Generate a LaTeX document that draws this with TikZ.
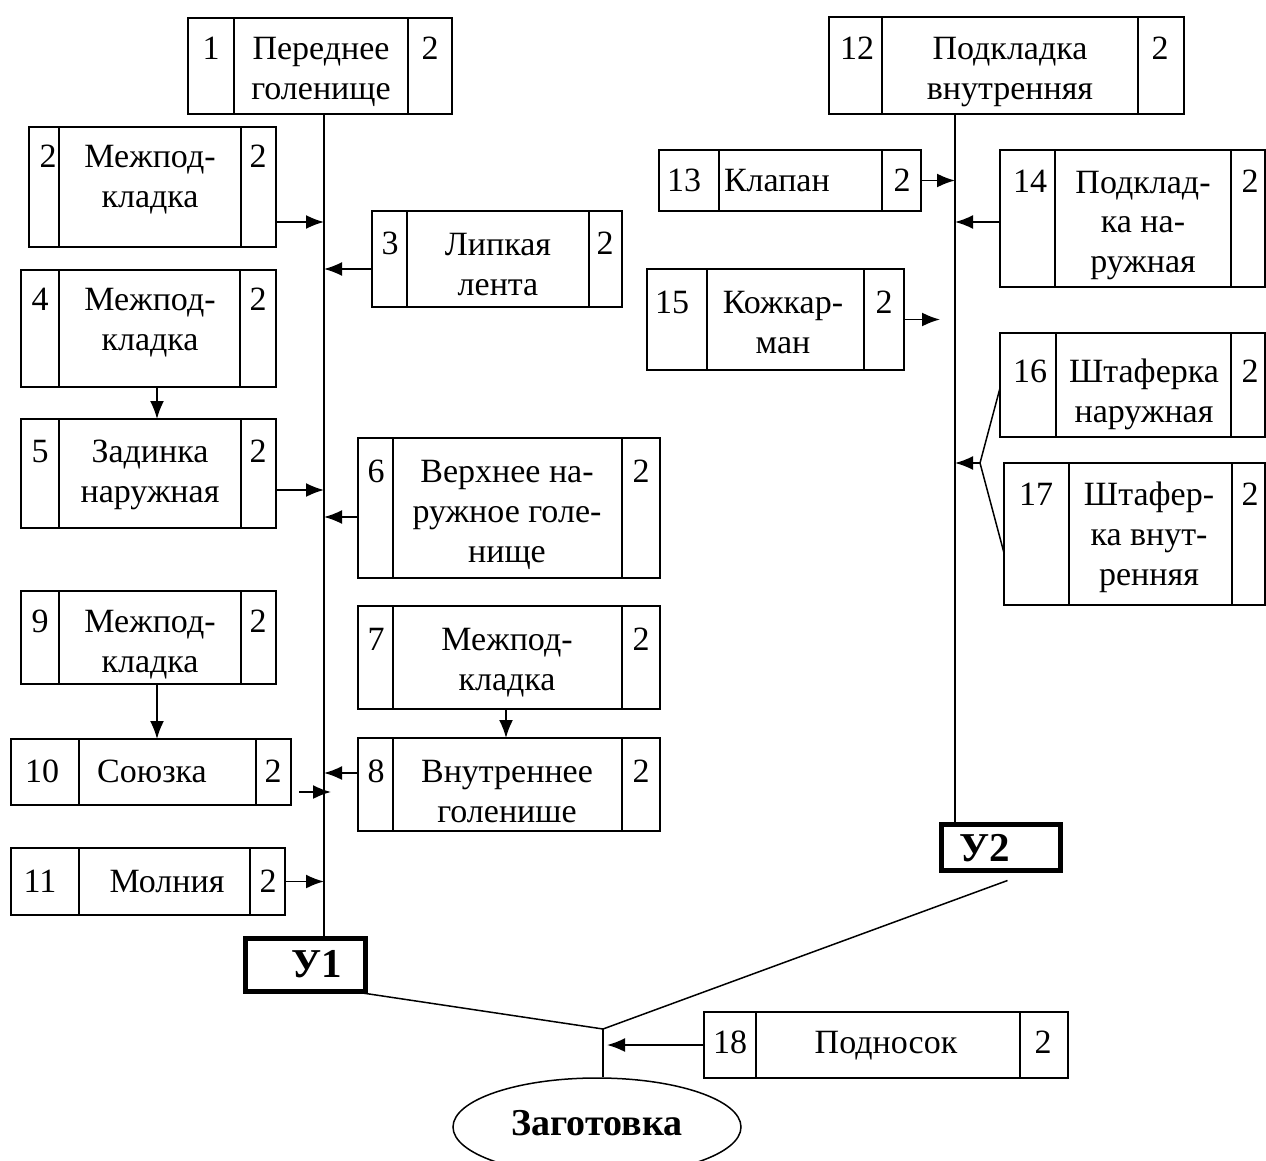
\documentclass[tikz,border=0pt]{standalone}
\usepackage{fontspec}
\setmainfont{Liberation Serif}
\usetikzlibrary{arrows.meta,shapes.geometric}
\tikzset{
  box/.style={draw, line width=1.5pt, inner sep=0pt, outer sep=0pt},
  div/.style={line width=1.5pt},
  txt/.style={inner sep=0pt, outer sep=0pt, anchor=north, align=center, font=\fontsize{34}{40}\selectfont},
  btxt/.style={inner sep=0pt, outer sep=0pt, font=\fontsize{41}{44}\selectfont\bfseries},
  arr/.style={line width=1.8pt, -{Latex[length=18pt,width=14pt]}},
  ln/.style={line width=1.5pt},
  ubox/.style={draw, line width=5pt, inner sep=0pt, outer sep=0pt, anchor=north west},
}
\newcommand\pbox[7]{%
  \node[box, anchor=north west, minimum width={#5-#2}, minimum height={#7-#6}] (#1) at (#2,#6) {};
  \draw[div] (#3,#6) -- (#3,#7) (#4,#6) -- (#4,#7);
}
\newcommand\ptx[4]{\node[txt] (#1) at (#2,#3) {\strut #4};}
\begin{document}
\begin{tikzpicture}[x=1pt,y=-1pt]
\useasboundingbox (0,0) rectangle (1266,1161);
\clip (0,0) rectangle (1266,1161);

\pbox{b1}{188}{234}{408}{452}{18}{114}
\ptx{b1a}{211}{32}{1}\ptx{b1t}{321}{32}{Переднее\\голенище}\ptx{b1b}{430}{32}{2}

\pbox{b2}{29}{59}{241}{276}{127}{247}
\ptx{b2a}{48}{140}{2}\ptx{b2t}{150}{140}{Межпод-\\кладка}\ptx{b2b}{258}{140}{2}

\pbox{b3}{372}{407}{589}{622}{211}{307}
\ptx{b3a}{390}{227}{3}\ptx{b3t}{498}{227}{Липкая\\лента}\ptx{b3b}{605}{227}{2}

\pbox{b4}{21}{59}{240}{276}{270}{387}
\ptx{b4a}{40}{282}{4}\ptx{b4t}{150}{282}{Межпод-\\кладка}\ptx{b4b}{258}{282}{2}

\pbox{b5}{21}{59}{241}{276}{419}{528}
\ptx{b5a}{40}{434}{5}\ptx{b5t}{150}{434}{Задинка\\наружная}\ptx{b5b}{258}{434}{2}

\pbox{b6}{358}{393}{622}{660}{438}{578}
\ptx{b6a}{376}{454}{6}\ptx{b6t}{507}{454}{Верхнее на-\\ружное голе-\\нище}\ptx{b6b}{641}{454}{2}

\pbox{b7}{358}{393}{622}{660}{606}{709}
\ptx{b7a}{376}{622}{7}\ptx{b7t}{507}{622}{Межпод-\\кладка}\ptx{b7b}{641}{622}{2}

\pbox{b8}{358}{393}{622}{660}{738}{831}
\ptx{b8a}{376}{754}{8}\ptx{b8t}{507}{754}{Внутреннее\\голенише}\ptx{b8b}{641}{754}{2}

\pbox{b9}{21}{59}{241}{276}{591}{684}
\ptx{b9a}{40}{604}{9}\ptx{b9t}{150}{604}{Межпод-\\кладка}\ptx{b9b}{258}{604}{2}

\pbox{b10}{11}{79}{256}{291}{739}{805}
\ptx{b10a}{42}{754}{10}\ptx{b10t}{152}{754}{Союзка}\ptx{b10b}{273}{754}{2}

\pbox{b11}{11}{79}{250}{285}{848}{915}
\ptx{b11a}{40}{864}{11}\ptx{b11t}{167}{864}{Молния}\ptx{b11b}{268}{864}{2}

\pbox{b12}{829}{882}{1138}{1184}{17}{114}
\ptx{b12a}{857}{32}{12}\ptx{b12t}{1010}{32}{Подкладка\\внутренняя}\ptx{b12b}{1160}{32}{2}

\pbox{b13}{659}{719}{882}{921}{150}{211}
\ptx{b13a}{684}{164}{13}
\node[txt, anchor=north west] (b13t) at (724,164) {\strut Клапан};
\ptx{b13b}{902}{164}{2}

\pbox{b14}{1000}{1055}{1231}{1265}{150}{287}
\ptx{b14a}{1030}{165}{14}\ptx{b14t}{1143}{165}{Подклад-\\ка на-\\ружная}\ptx{b14b}{1250}{165}{2}

\pbox{b15}{647}{707}{864}{904}{269}{370}
\ptx{b15a}{672}{285}{15}\ptx{b15t}{783}{285}{Кожкар-\\ман}\ptx{b15b}{884}{285}{2}

\pbox{b16}{1000}{1056}{1231}{1265}{333}{437}
\ptx{b16a}{1030}{354}{16}\ptx{b16t}{1144}{354}{Штаферка\\наружная}\ptx{b16b}{1250}{354}{2}

\pbox{b17}{1004}{1069}{1232}{1265}{463}{605}
\ptx{b17a}{1036}{477}{17}\ptx{b17t}{1149}{477}{Штафер-\\ка внут-\\ренняя}\ptx{b17b}{1250}{477}{2}

\pbox{b18}{704}{756}{1020}{1068}{1012}{1078}
\ptx{b18a}{730}{1025}{18}\ptx{b18t}{886}{1025}{Подносок}\ptx{b18b}{1043}{1025}{2}

% assembly boxes
\node[ubox, minimum width=120, minimum height=53] (u1) at (245.5,938.5) {};
\node[btxt] (u1t) at (317,964) {У1};
\node[ubox, minimum width=119, minimum height=46] (u2) at (941.5,824.5) {};
\node[btxt] (u2t) at (985,848) {У2};

% result
\node[draw, ellipse, line width=1.5pt, minimum width=288, minimum height=98, inner sep=0pt] (zg) at (597,1127) {};
\node[btxt, font=\fontsize{38}{40}\selectfont\bfseries] (zgt) at (597,1123) {Заготовка};

% main lines
\coordinate (s1) at (324,114);
\coordinate (s2) at (955,114);
\draw[ln] (s1) -- (s1 |- u1.north);
\draw[ln] (s2) -- (s2 |- u2.north);

% arrows to line 1
\draw[arr] ([yshift=25pt]b2.south east) -- ([yshift=25pt]b2.south east -| s1);
\draw[arr] ([yshift=38pt]b3.south west) -- ([yshift=38pt]b3.south west -| s1);
\draw[arr] ([xshift=8.5pt]b4.south) -- ([xshift=8.5pt]b4.south |- b5.north);
\draw[arr] ([yshift=38pt]b5.south east) -- ([yshift=38pt]b5.south east -| s1);
\draw[arr] ([yshift=61pt]b6.south west) -- ([yshift=61pt]b6.south west -| s1);
\draw[arr] ([xshift=-3pt]b7.south) -- ([xshift=-3pt]b7.south |- b8.north);
\draw[arr] ([yshift=58pt]b8.south west) -- ([yshift=58pt]b8.south west -| s1);
\draw[arr] ([xshift=8.5pt]b9.south) -- ([xshift=8.5pt]b9.south |- b10.north);
\draw[arr] ([xshift=8pt,yshift=13pt]b10.south east) -- ([xshift=7pt,yshift=13pt]b10.south east -| s1);
\draw[arr] (b11.east) -- (b11.east -| s1);

% arrows to line 2
\draw[arr] (b13.east) -- (b13.east -| s2);
\draw[arr] ([yshift=65pt]b14.south west) -- ([yshift=65pt]b14.south west -| s2);
\draw[arr] (b15.east) -- ([xshift=-15pt]b15.east -| s2);
\coordinate (f) at (980,463);
\draw[ln] ([yshift=49pt]b16.south west) -- (f) -- ([yshift=52pt]b17.south west);
\draw[arr] (f) -- (f -| s2);

% junction
\coordinate (j) at (603,1029);
\draw[ln] ([xshift=-13pt]u1.south east) -- (j);
\draw[ln] ([xshift=-53pt,yshift=-10pt]u2.south east) -- (j);
\draw[ln] (j) -- (j |- zg.north);
\draw[arr] (b18.west) -- ([xshift=4pt]b18.west -| j);
\end{tikzpicture}
\end{document}
